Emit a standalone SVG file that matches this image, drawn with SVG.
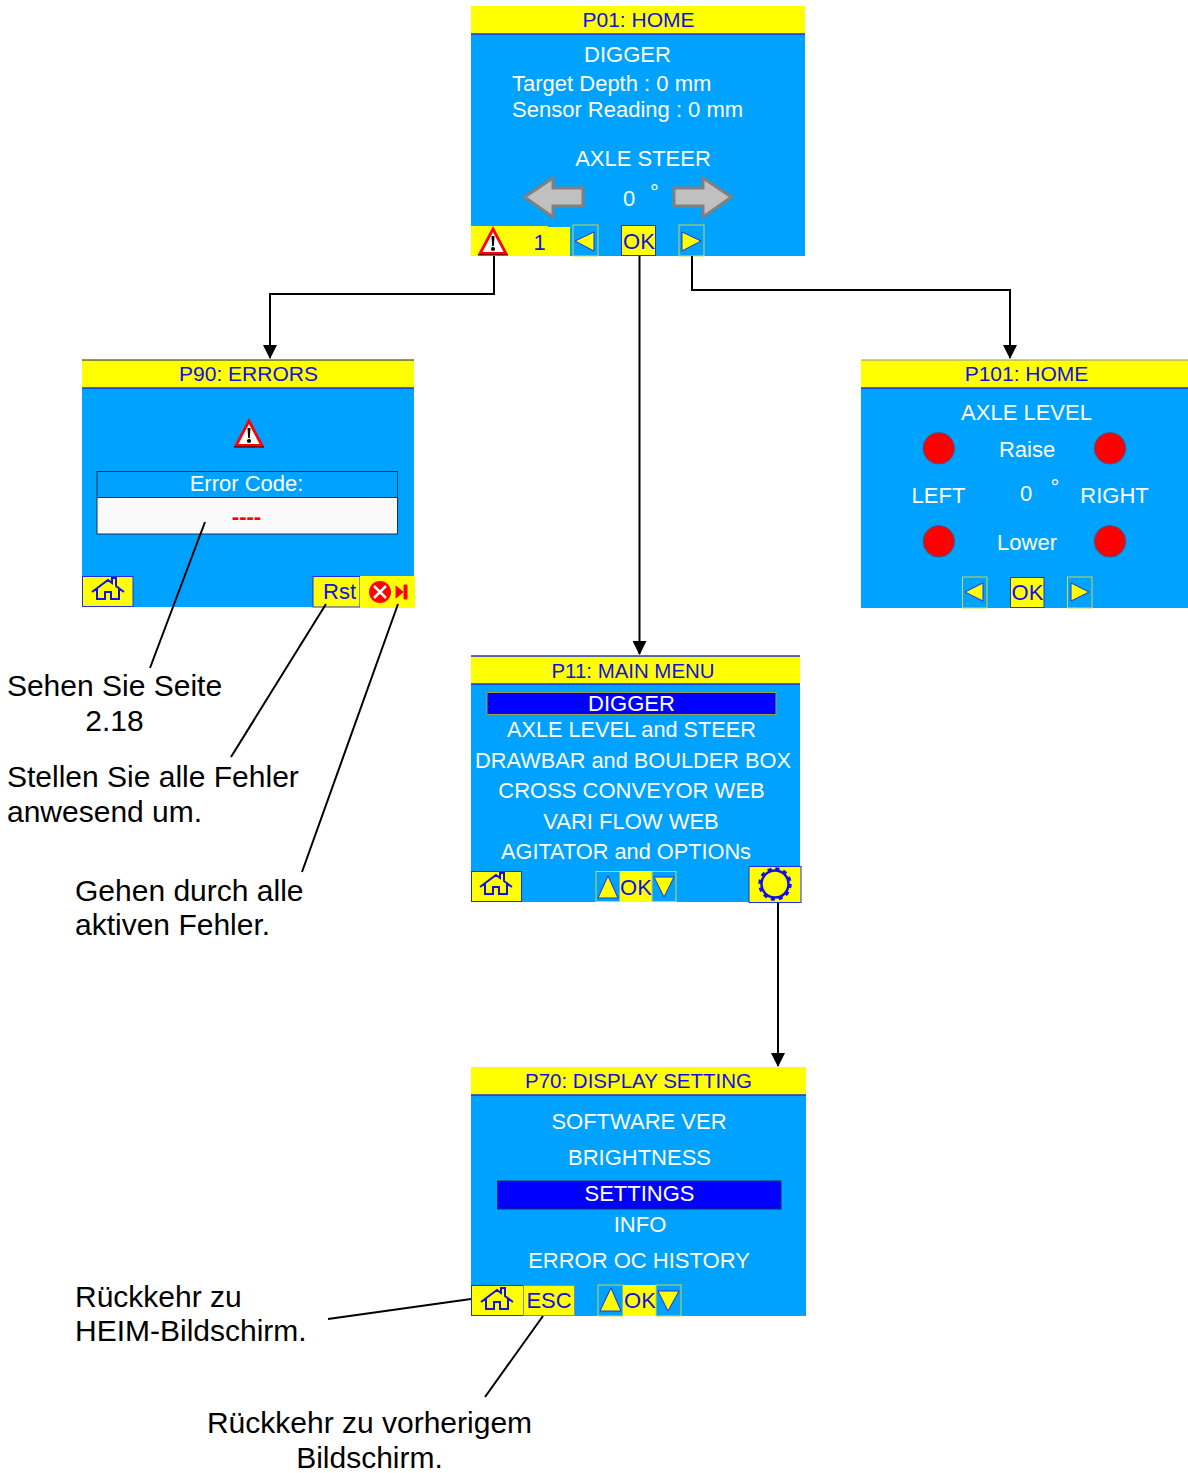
<svg xmlns="http://www.w3.org/2000/svg" width="1188" height="1473" viewBox="0 0 1188 1473">
<style>
text{font-family:"Liberation Sans",Arial,sans-serif}
.p{fill:#00a2ff}
.h{fill:#ffff00;stroke:none}
.hl{stroke:#2030e0;stroke-width:1.500;fill:none}
.ht{fill:#1010e8;font-size:21px;text-anchor:middle}
.w{fill:#fff;font-size:22px;transform:translateY(-0.7px)}
.m{text-anchor:middle}
.b{fill:#ffff00;stroke:#2030e0;stroke-width:1}
.bt{fill:#1010e8;font-size:22px;text-anchor:middle}
.ab{fill:#00a2ff;stroke:#c8d848;stroke-width:1}
.tri{fill:#ffff00;stroke:#2030e0;stroke-width:1}
.ga{fill:#c0c0c0;stroke:#808080;stroke-width:3}
.l{fill:#000;font-size:30px}
.c{fill:none;stroke:#000;stroke-width:2}
.rd{fill:#ff0000;stroke:#3060a0;stroke-width:1}
</style>
<defs>
<marker id="ah" markerUnits="userSpaceOnUse" markerWidth="14" markerHeight="14" refX="13" refY="7" orient="auto"><path d="M0,0L14,7L0,14Z" fill="#000"/></marker>
<g id="house"><path d="M0,14L16,2L20,5V0H24V8L32,14M5,11V21H13V14H19V21H27V11" fill="none" stroke="#1010e8" stroke-width="2"/></g>
<g id="warn"><path d="M15,3L28,27.500H2Z" fill="#fff" stroke="#ff0000" stroke-width="2.800"/><path d="M0,29H30" stroke="#000" stroke-width="1"/><path d="M13.500,10H16.500L15.800,20H14.200Z" fill="#000"/><circle cx="15" cy="23" r="2.100" fill="#000"/></g>
</defs>
<g id="p01">
<rect class="p" x="471" y="6" width="334" height="250"/>
<rect class="h" x="471" y="6" width="334" height="28"/><path class="hl" d="M471,34H805"/>
<text class="ht" x="638.500" y="27">P01: HOME</text>
<text class="w m" x="627.500" y="63">DIGGER</text>
<text class="w" x="512" y="92">Target Depth : 0 mm</text>
<text class="w" x="512" y="118">Sensor Reading : 0 mm</text>
<text class="w m" x="643" y="167">AXLE STEER</text>
<path class="ga" d="M524.500,197L553,178V188H583V206H553V217Z"/>
<path class="ga" d="M731.500,197L703,178V188H674V206H703V217Z"/>
<text class="w m" x="629" y="207">0</text>
<text class="w m" x="654.500" y="201">°</text>
<path d="M471,226H548V227H570V256H471Z" fill="#ffff00"/>
<use href="#warn" x="478" y="226"/>
<text class="bt" x="539.500" y="250">1</text>
<rect class="ab" x="573" y="225" width="25" height="31"/><path class="tri" d="M575,241L594,232V251Z"/>
<rect class="b" x="621.500" y="225.500" width="34" height="30"/><text class="bt" x="639" y="249">OK</text>
<rect class="ab" x="679" y="225" width="25" height="31"/><path class="tri" d="M682,232L701,241L682,251Z"/>
</g>
<g id="p90">
<rect class="p" x="82" y="360" width="332" height="247"/>
<rect class="h" x="82" y="360" width="332" height="28"/><path class="hl" d="M82,388H414"/><path d="M82,360H414" stroke="#102050"/>
<text class="ht" x="248.500" y="381">P90: ERRORS</text>
<use href="#warn" x="234" y="418"/>
<rect x="97" y="471.500" width="300.500" height="26" fill="#00a2ff" stroke="#103060"/>
<text class="w m" x="246.500" y="492">Error Code:</text>
<rect x="97" y="497.500" width="300.500" height="36.500" fill="#fafafa" stroke="#103060"/>
<text x="246.500" y="523.500" text-anchor="middle" fill="#ff0000" font-size="22" font-weight="bold">----</text>
<rect class="b" x="82.500" y="576.500" width="50.500" height="30"/><use href="#house" x="92" y="578"/>
<rect class="b" x="313" y="576.500" width="47" height="30.500"/><text class="bt" x="339.500" y="599">Rst</text>
<rect x="360" y="576" width="55" height="32" fill="#ffff00"/>
<circle cx="380" cy="592" r="11" fill="#ff0000"/><path d="M374,586L386,598M386,586L374,598" stroke="#fff" stroke-width="2.500"/>
<path d="M396,586L403,592L396,598ZM404,585H407V599H404Z" fill="#ff0000" stroke="#ff0000"/>
</g>
<g id="p101">
<rect class="p" x="861" y="360" width="327" height="248"/>
<rect class="h" x="861" y="360" width="327" height="28"/><path class="hl" d="M861,388H1188"/><path d="M861,360H1188" stroke="#909090"/>
<text class="ht" x="1026.500" y="381">P101: HOME</text>
<text class="w m" x="1026.500" y="421">AXLE LEVEL</text>
<circle class="rd" cx="938.800" cy="448.300" r="15.800"/><circle class="rd" cx="1110" cy="448.300" r="15.800"/>
<circle class="rd" cx="938.800" cy="541.300" r="15.800"/><circle class="rd" cx="1110" cy="541.300" r="15.800"/>
<text class="w m" x="1027" y="458">Raise</text>
<text class="w m" x="938.500" y="504">LEFT</text>
<text class="w m" x="1026" y="502">0</text>
<text class="w m" x="1055" y="496">°</text>
<text class="w m" x="1114.500" y="504">RIGHT</text>
<text class="w m" x="1027" y="551">Lower</text>
<rect class="ab" x="962.500" y="577" width="24.500" height="31"/><path class="tri" d="M965,592L983,583V601Z"/>
<rect class="b" x="1010.500" y="577.500" width="33.500" height="30"/><text class="bt" x="1027.500" y="600">OK</text>
<rect class="ab" x="1067.500" y="577" width="24.500" height="31"/><path class="tri" d="M1071,583L1089,592L1071,601Z"/>
</g>
<g id="p11">
<rect class="p" x="471" y="656" width="329" height="246"/>
<rect class="h" x="471" y="656" width="329" height="28"/><path class="hl" d="M471,684H800M471,656H800"/>
<text class="ht" x="633" y="678" textLength="163" lengthAdjust="spacingAndGlyphs">P11: MAIN MENU</text>
<rect x="487" y="692.500" width="289" height="22" fill="#0000ff" stroke="#a0a040"/>
<text class="w m" x="631.500" y="712">DIGGER</text>
<text class="w m" x="631.500" y="738" textLength="249" lengthAdjust="spacingAndGlyphs">AXLE LEVEL and STEER</text>
<text class="w m" x="633" y="769" textLength="316" lengthAdjust="spacingAndGlyphs">DRAWBAR and BOULDER BOX</text>
<text class="w m" x="631.500" y="799">CROSS CONVEYOR WEB</text>
<text class="w m" x="631" y="830">VARI FLOW WEB</text>
<text class="w m" x="626" y="860" textLength="250" lengthAdjust="spacingAndGlyphs">AGITATOR and OPTIONs</text>
<rect class="b" x="471.500" y="871.500" width="50" height="30"/><use href="#house" x="480" y="873"/>
<rect class="ab" x="596" y="871.500" width="24" height="30"/><path class="tri" d="M598,898L608,876L618,898Z"/>
<rect x="620" y="871" width="32" height="31" fill="#ffff00"/><text class="bt" x="636" y="895">OK</text>
<rect class="ab" x="652" y="871.500" width="24" height="30"/><path class="tri" d="M654,877H674L664,897Z"/>
<rect class="b" x="749" y="866.500" width="52" height="36"/>
<circle cx="775" cy="884" r="13.500" fill="none" stroke="#1010e8" stroke-width="2.500"/>
<circle cx="775" cy="884" r="15" fill="none" stroke="#1010e8" stroke-width="3.500" stroke-dasharray="4 3.850"/>
</g>
<g id="p70">
<rect class="p" x="471" y="1067" width="335" height="249"/>
<rect class="h" x="471" y="1067" width="335" height="28"/><path class="hl" d="M471,1095H806"/>
<text class="ht" x="638.500" y="1088" textLength="227" lengthAdjust="spacingAndGlyphs">P70: DISPLAY SETTING</text>
<text class="w m" x="639" y="1130">SOFTWARE VER</text>
<text class="w m" x="639.500" y="1166">BRIGHTNESS</text>
<rect x="497.500" y="1181" width="283.500" height="28" fill="#0000ff" stroke="#103060"/>
<text class="w m" x="639.500" y="1202">SETTINGS</text>
<text class="w m" x="640" y="1233">INFO</text>
<text class="w m" x="639" y="1269">ERROR OC HISTORY</text>
<rect class="b" x="471.500" y="1285.500" width="52" height="30"/><use href="#house" x="481" y="1288"/>
<rect x="523.500" y="1285.500" width="51" height="30" fill="#ffff00" stroke="#8090a0"/><text class="bt" x="549" y="1308">ESC</text>
<rect class="ab" x="598" y="1285" width="25" height="31"/><path class="tri" d="M600,1311L611,1288L621,1311Z"/>
<rect x="623" y="1285" width="33" height="31" fill="#ffff00"/><text class="bt" x="640" y="1308">OK</text>
<rect class="ab" x="656" y="1285" width="25" height="31"/><path class="tri" d="M658,1291H679L668,1311Z"/>
</g>
<g id="connectors">
<path class="c" d="M494,256V294H270V358" marker-end="url(#ah)"/>
<path class="c" d="M639.500,256V654" marker-end="url(#ah)"/>
<path class="c" d="M692,256V290H1010V358" marker-end="url(#ah)"/>
<path class="c" d="M778,903V1066" marker-end="url(#ah)"/>
<path class="c" d="M205,522L150,668M326,604L231,757M398,604L302,872M328,1319L471,1299M543,1316L485,1397"/>
</g>
<g id="notes">
<text class="l" x="114.500" y="696" text-anchor="middle">Sehen Sie Seite</text>
<text class="l" x="114.500" y="731" text-anchor="middle">2.18</text>
<text class="l" x="7" y="787">Stellen Sie alle Fehler</text>
<text class="l" x="7" y="822">anwesend um.</text>
<text class="l" x="75" y="901">Gehen durch alle</text>
<text class="l" x="75" y="935">aktiven Fehler.</text>
<text class="l" x="75" y="1307">Rückkehr zu</text>
<text class="l" x="75" y="1341">HEIM-Bildschirm.</text>
<text class="l" x="369.500" y="1433" text-anchor="middle">Rückkehr zu vorherigem</text>
<text class="l" x="369.500" y="1468" text-anchor="middle">Bildschirm.</text>
</g>
</svg>
